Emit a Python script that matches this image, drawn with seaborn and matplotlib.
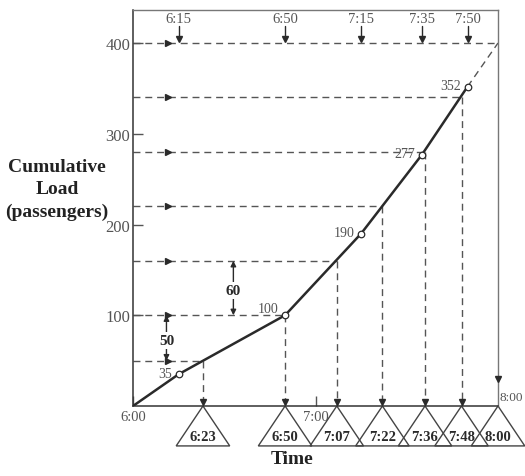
import matplotlib
matplotlib.use("Agg")
import matplotlib.pyplot as plt
from matplotlib.patches import Polygon
import seaborn as sns
import pandas as pd

# ---- data (minutes after 6:00, cumulative passengers) ----
obs_minutes = [0, 15, 50, 75, 95, 110]
obs_loads = [0, 35, 100, 190, 277, 352]
point_labels = ["", "35", "100", "190", "277", "352"]
end_minute = 120
end_load = 400

top_times = [15, 50, 75, 95, 110]
top_labels = ["6:15", "6:50", "7:15", "7:35", "7:50"]

levels = [50, 100, 160, 220, 280, 340, 400]
dep_minutes = [23, 50, 67, 82, 96, 108, 120]
dep_labels = ["6:23", "6:50", "7:07", "7:22", "7:36", "7:48", "8:00"]

yticks = [100, 200, 300, 400]

sns.set_theme(style="white")
plt.rcParams["font.family"] = ["Liberation Serif", "DejaVu Serif"]

DARK = "#2a2a2a"
GUIDE = "#555555"
TXT = "#555555"
DASH = (0, (5, 3.5))

fig = plt.figure(figsize=(5.25, 4.77), dpi=100)
ax = fig.add_axes([133 / 525, 70 / 477, 365 / 525, 396 / 477])
ax.set_xlim(0, 120)
ax.set_ylim(0, 436.4)

df = pd.DataFrame({"minute": obs_minutes, "load": obs_loads})

# horizontal dashed guides with arrows
for lvl, t in zip(levels, dep_minutes):
    ax.plot([0, t], [lvl, lvl], ls=DASH, color=GUIDE, lw=1.0, zorder=2)
    ax.plot([11.5], [lvl], marker=">", ms=4.5, color=DARK, zorder=4)

# vertical drops to the time axis
for lvl, t in zip(levels[:-1], dep_minutes[:-1]):
    ax.plot([t, t], [lvl, 0], ls=DASH, color=GUIDE, lw=1.0, zorder=2)
    ax.plot([t], [4], marker="v", ms=4.5, color=DARK, zorder=4, clip_on=False)

# extension to 8:00
ax.plot([obs_minutes[-1], end_minute], [obs_loads[-1], end_load],
        ls=DASH, color=GUIDE, lw=1.0, zorder=2)

# main cumulative load curve
sns.lineplot(data=df, x="minute", y="load", sort=False, estimator=None,
             color=DARK, lw=1.8, ax=ax, zorder=3)
ax.scatter(obs_minutes[1:], obs_loads[1:], s=22, facecolor="white",
           edgecolor=DARK, lw=0.9, zorder=5)
for t, v, lab in zip(obs_minutes, obs_loads, point_labels):
    if lab:
        dy = 7 if lab == "100" else 1
        ax.text(t - 2.2, v + dy, lab, ha="right", va="center",
                fontsize=10, color=TXT)

# top arrows (bus arrival times)
for t, lab in zip(top_times, top_labels):
    ax.plot([t, t], [419, 403], color=DARK, lw=1.0, zorder=4)
    ax.plot([t], [404.5], marker="v", ms=5, color=DARK, zorder=4)
    ax.text(t, 427, lab, ha="center", va="center", fontsize=10.5, color=TXT)

# 8:00 arrow on the right spine
ax.plot([120], [30], marker="v", ms=5, color=DARK, zorder=5, clip_on=False)

# dimension arrows
for x, y0, y1, lab, ty in [(11, 50, 100, "50", 72), (33, 100, 160, "60", 127)]:
    ax.annotate("", xy=(x, y1), xytext=(x, y0),
                arrowprops=dict(arrowstyle="<|-|>", color=DARK, lw=1.0,
                                shrinkA=0, shrinkB=0, mutation_scale=8))
    ax.text(x, ty, lab, ha="center", va="center", fontsize=11,
            fontweight="bold", color=DARK,
            bbox=dict(facecolor="white", edgecolor="none", pad=1.5))

# departure triangles below axis
for t, lab in zip(dep_minutes, dep_labels):
    tri = Polygon([(t, 0), (t - 8.8, -44), (t + 8.8, -44)], closed=True,
                  fill=False, edgecolor="#444444", lw=1.0, clip_on=False)
    ax.add_patch(tri)
    ax.text(t, -34, lab, ha="center", va="center", fontsize=10.5,
            fontweight="bold", color=DARK, clip_on=False)

# axes styling
ax.set_yticks(yticks)
ax.set_yticklabels([str(v) for v in yticks])
ax.set_xticks([0, 60])
ax.set_xticklabels(["6:00", "7:00"])
ax.tick_params(axis="both", direction="in", length=7, width=1.0,
               color="#555555", labelcolor=TXT, labelsize=12, pad=2,
               left=True, bottom=True)
ax.tick_params(axis="x", labelsize=10.5, pad=3)
ax.set_xlabel("")
ax.set_ylabel("")
for side in ["left", "bottom"]:
    ax.spines[side].set_color("#333333")
    ax.spines[side].set_linewidth(1.1)
for side in ["top", "right"]:
    ax.spines[side].set_color("#777777")
    ax.spines[side].set_linewidth(1.0)
ax.grid(False)

ax.text(120.6, 3, "8:00", ha="left", va="bottom", fontsize=9.5, color=TXT,
        clip_on=False)

# axis titles
for txt, y in [("Cumulative", 167), ("Load", 190), ("(passengers)", 212)]:
    fig.text(57 / 525, 1 - y / 477, txt, ha="center", va="center",
             fontsize=14, fontweight="bold", color="#222222")
fig.text(292 / 525, 1 - 460 / 477, "Time", ha="center", va="center",
         fontsize=14, fontweight="bold", color="#222222")

fig.savefig("out.png", dpi=100)
